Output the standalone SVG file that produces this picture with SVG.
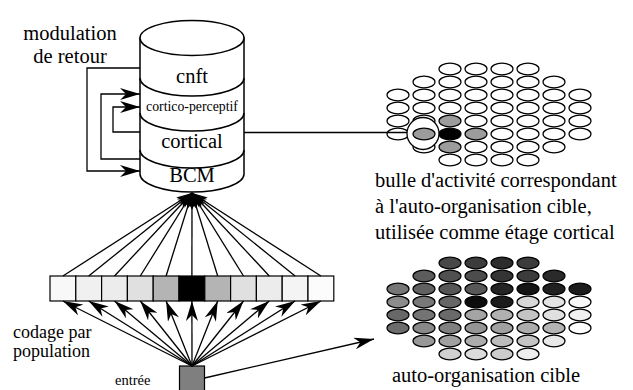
<svg xmlns="http://www.w3.org/2000/svg" width="633" height="390" viewBox="0 0 633 390">
<style>
text{font-family:'Liberation Serif','DejaVu Serif',serif;fill:#000}
.big{font-size:20.5px}
.mid{font-size:18px}
.sm{font-size:14.5px}
.xs{font-size:13.8px}
.ln{fill:none;stroke:#000;stroke-width:1.3}
.cyl{fill:#fff;stroke:#000;stroke-width:1.5}
.arc{fill:none;stroke:#000;stroke-width:1.5}
.e{stroke:#000;stroke-width:1.2}
.cell{stroke:#000;stroke-width:1.2}
</style>
<defs>
<marker id="ah" viewBox="0 0 20 12" refX="20" refY="6" markerWidth="20" markerHeight="12" markerUnits="userSpaceOnUse" orient="auto"><path d="M0,0 L20,6 L0,12 L6,6 z" fill="#000"/></marker>
<marker id="ah2" viewBox="0 0 16 10" refX="16" refY="5" markerWidth="16" markerHeight="10" markerUnits="userSpaceOnUse" orient="auto"><path d="M0,0 L16,5 L0,10 L5,5 z" fill="#000"/></marker>
<ellipse id="el" rx="11" ry="5.8"/>
</defs>
<rect width="633" height="390" fill="#fff"/>

<g id="stack" font-family="Liberation Serif, serif">
<path class="cyl" d="M140,38 L140,174 A52,18 0 0 0 244,174 L244,38 Z"/>
<ellipse class="cyl" cx="192" cy="38" rx="52" ry="17.5"/>
<path class="arc" d="M140,78 A52,18 0 0 0 244,78"/>
<path class="arc" d="M140,113 A52,18 0 0 0 244,113"/>
<path class="arc" d="M140,150 A52,18 0 0 0 244,150"/>
<text class="big" x="192" y="83" text-anchor="middle">cnft</text>
<text class="xs" x="192" y="111" text-anchor="middle">cortico-perceptif</text>
<text class="big" x="192" y="148" text-anchor="middle">cortical</text>
<text class="big" x="192" y="182" text-anchor="middle">BCM</text>
</g>

<g id="feedback-label">
<text class="big" x="70" y="40" text-anchor="middle">modulation</text>
<text class="big" x="70" y="63" text-anchor="middle">de retour</text>
</g>

<g id="top-grid">
<g fill="#fff" class="e">
<use href="#el" x="450" y="69"/><use href="#el" x="476" y="69"/><use href="#el" x="502" y="69"/><use href="#el" x="528" y="69"/>
<use href="#el" x="424" y="82"/><use href="#el" x="450" y="82"/><use href="#el" x="476" y="82"/><use href="#el" x="502" y="82"/><use href="#el" x="528" y="82"/><use href="#el" x="554" y="82"/>
<use href="#el" x="398" y="95"/><use href="#el" x="424" y="95"/><use href="#el" x="450" y="95"/><use href="#el" x="476" y="95"/><use href="#el" x="502" y="95"/><use href="#el" x="528" y="95"/><use href="#el" x="554" y="95"/><use href="#el" x="580" y="95"/>
<use href="#el" x="398" y="108"/><use href="#el" x="424" y="108"/><use href="#el" x="450" y="108"/><use href="#el" x="476" y="108"/><use href="#el" x="502" y="108"/><use href="#el" x="528" y="108"/><use href="#el" x="554" y="108"/><use href="#el" x="580" y="108"/>
<use href="#el" x="398" y="121"/><use href="#el" x="424" y="121"/><use href="#el" x="450" y="121" fill="#9c9c9c"/><use href="#el" x="476" y="121"/><use href="#el" x="502" y="121"/><use href="#el" x="528" y="121"/><use href="#el" x="554" y="121"/><use href="#el" x="580" y="121"/>
<use href="#el" x="398" y="134"/><use href="#el" x="424" y="134"/><use href="#el" x="450" y="134" fill="#000"/><use href="#el" x="476" y="134" fill="#9c9c9c"/><use href="#el" x="502" y="134"/><use href="#el" x="528" y="134"/><use href="#el" x="554" y="134"/><use href="#el" x="580" y="134"/>
<use href="#el" x="424" y="147"/><use href="#el" x="450" y="147" fill="#9c9c9c"/><use href="#el" x="476" y="147"/><use href="#el" x="502" y="147"/><use href="#el" x="528" y="147"/><use href="#el" x="554" y="147"/>
<use href="#el" x="450" y="160"/><use href="#el" x="476" y="160"/><use href="#el" x="502" y="160"/><use href="#el" x="528" y="160"/>
</g>
<circle cx="423" cy="133.5" r="16" fill="#fff" stroke="#000" stroke-width="1.3"/>
<use href="#el" x="424" y="134" fill="#9c9c9c" class="e"/>
</g>

<g id="top-text">
<text class="big" x="375" y="187">bulle d'activité correspondant</text>
<text class="big" x="375" y="213">à l'auto-organisation cible,</text>
<text class="big" x="375" y="239">utilisée comme étage cortical</text>
</g>

<g id="bottom-grid" class="e">
<use href="#el" x="450" y="263" fill="#484848"/><use href="#el" x="476" y="263" fill="#3c3c3c"/><use href="#el" x="502" y="263" fill="#2c2c2c"/><use href="#el" x="528" y="263" fill="#3c3c3c"/>
<use href="#el" x="424" y="276" fill="#5c5c5c"/><use href="#el" x="450" y="276" fill="#505050"/><use href="#el" x="476" y="276" fill="#4c4c4c"/><use href="#el" x="502" y="276" fill="#343434"/><use href="#el" x="528" y="276" fill="#3c3c3c"/><use href="#el" x="554" y="276" fill="#2a2a2a"/>
<use href="#el" x="398" y="289" fill="#767676"/><use href="#el" x="424" y="289" fill="#606060"/><use href="#el" x="450" y="289" fill="#565656"/><use href="#el" x="476" y="289" fill="#585858"/><use href="#el" x="502" y="289" fill="#242424"/><use href="#el" x="528" y="289" fill="#141414"/><use href="#el" x="554" y="289" fill="#202020"/><use href="#el" x="580" y="289" fill="#1c1c1c"/>
<use href="#el" x="398" y="302" fill="#8c8c8c"/><use href="#el" x="424" y="302" fill="#787878"/><use href="#el" x="450" y="302" fill="#666666"/><use href="#el" x="476" y="302" fill="#0c0c0c"/><use href="#el" x="502" y="302" fill="#1c1c1c"/><use href="#el" x="528" y="302" fill="#d8d8d8"/><use href="#el" x="554" y="302" fill="#e4e4e4"/><use href="#el" x="580" y="302" fill="#f8f8f8"/>
<use href="#el" x="398" y="315" fill="#686868"/><use href="#el" x="424" y="315" fill="#747474"/><use href="#el" x="450" y="315" fill="#6a6a6a"/><use href="#el" x="476" y="315" fill="#a4a4a4"/><use href="#el" x="502" y="315" fill="#b0b0b0"/><use href="#el" x="528" y="315" fill="#c4c4c4"/><use href="#el" x="554" y="315" fill="#e0e0e0"/><use href="#el" x="580" y="315" fill="#f0f0f0"/>
<use href="#el" x="398" y="328" fill="#6c6c6c"/><use href="#el" x="424" y="328" fill="#888888"/><use href="#el" x="450" y="328" fill="#808080"/><use href="#el" x="476" y="328" fill="#949494"/><use href="#el" x="502" y="328" fill="#a0a0a0"/><use href="#el" x="528" y="328" fill="#acacac"/><use href="#el" x="554" y="328" fill="#b4b4b4"/><use href="#el" x="580" y="328" fill="#ffffff"/>
<use href="#el" x="424" y="341" fill="#989898"/><use href="#el" x="450" y="341" fill="#a0a0a0"/><use href="#el" x="476" y="341" fill="#acacac"/><use href="#el" x="502" y="341" fill="#bcbcbc"/><use href="#el" x="528" y="341" fill="#c4c4c4"/><use href="#el" x="554" y="341" fill="#e8e8e8"/>
<use href="#el" x="450" y="354" fill="#d0d0d0"/><use href="#el" x="476" y="354" fill="#dcdcdc"/><use href="#el" x="502" y="354" fill="#cccccc"/><use href="#el" x="528" y="354" fill="#eeeeee"/>
</g>

<g id="bottom-text">
<text class="big" x="392" y="382">auto-organisation cible</text>
</g>

<g id="population">
<rect class="cell" x="50" y="276" width="25.8" height="25" fill="#f8f8f8"/>
<rect class="cell" x="75.8" y="276" width="25.8" height="25" fill="#f0f0f0"/>
<rect class="cell" x="101.6" y="276" width="25.8" height="25" fill="#ececec"/>
<rect class="cell" x="127.4" y="276" width="25.8" height="25" fill="#e0e0e0"/>
<rect class="cell" x="153.2" y="276" width="25.8" height="25" fill="#b4b4b4"/>
<rect class="cell" x="179" y="276" width="25.8" height="25" fill="#000"/>
<rect class="cell" x="204.8" y="276" width="25.8" height="25" fill="#b4b4b4"/>
<rect class="cell" x="230.6" y="276" width="25.8" height="25" fill="#e0e0e0"/>
<rect class="cell" x="256.4" y="276" width="25.8" height="25" fill="#ececec"/>
<rect class="cell" x="282.2" y="276" width="25.8" height="25" fill="#f4f4f4"/>
<rect class="cell" x="308" y="276" width="25.8" height="25" fill="#fcfcfc"/>
<text class="mid" x="13" y="338">codage par</text>
<text class="mid" x="13" y="357">population</text>
</g>

<g id="entree">
<rect x="179.5" y="366" width="25" height="30" fill="#7f7f7f" stroke="#000" stroke-width="1.2"/>
<text class="sm" x="115" y="385">entrée</text>
</g>

<g id="connectors" class="ln">
<polyline points="140,68 87,68 87,171 140,171" marker-end="url(#ah)"/>
<polyline points="140,159 101,159 101,94 140,94" marker-end="url(#ah)"/>
<polyline points="140,132 113,132 113,107 140,107" marker-end="url(#ah)"/>
<line x1="244" y1="132.5" x2="407" y2="132.5"/>
<g marker-end="url(#ah2)">
<line x1="62.9" y1="276" x2="192" y2="193"/>
<line x1="88.7" y1="276" x2="192" y2="193"/>
<line x1="114.5" y1="276" x2="192" y2="193"/>
<line x1="140.3" y1="276" x2="192" y2="193"/>
<line x1="166.1" y1="276" x2="192" y2="193"/>
<line x1="191.9" y1="276" x2="192" y2="193"/>
<line x1="217.7" y1="276" x2="192" y2="193"/>
<line x1="243.5" y1="276" x2="192" y2="193"/>
<line x1="269.3" y1="276" x2="192" y2="193"/>
<line x1="295.1" y1="276" x2="192" y2="193"/>
<line x1="320.9" y1="276" x2="192" y2="193"/>
</g>
<g marker-end="url(#ah)">
<line x1="192" y1="366" x2="62.9" y2="301"/>
<line x1="192" y1="366" x2="88.7" y2="301"/>
<line x1="192" y1="366" x2="114.5" y2="301"/>
<line x1="192" y1="366" x2="140.3" y2="301"/>
<line x1="192" y1="366" x2="166.1" y2="301"/>
<line x1="192" y1="366" x2="191.9" y2="301"/>
<line x1="192" y1="366" x2="217.7" y2="301"/>
<line x1="192" y1="366" x2="243.5" y2="301"/>
<line x1="192" y1="366" x2="269.3" y2="301"/>
<line x1="192" y1="366" x2="295.1" y2="301"/>
<line x1="192" y1="366" x2="320.9" y2="301"/>
<line x1="204.5" y1="378" x2="374" y2="339"/>
</g>
</g>
</svg>
